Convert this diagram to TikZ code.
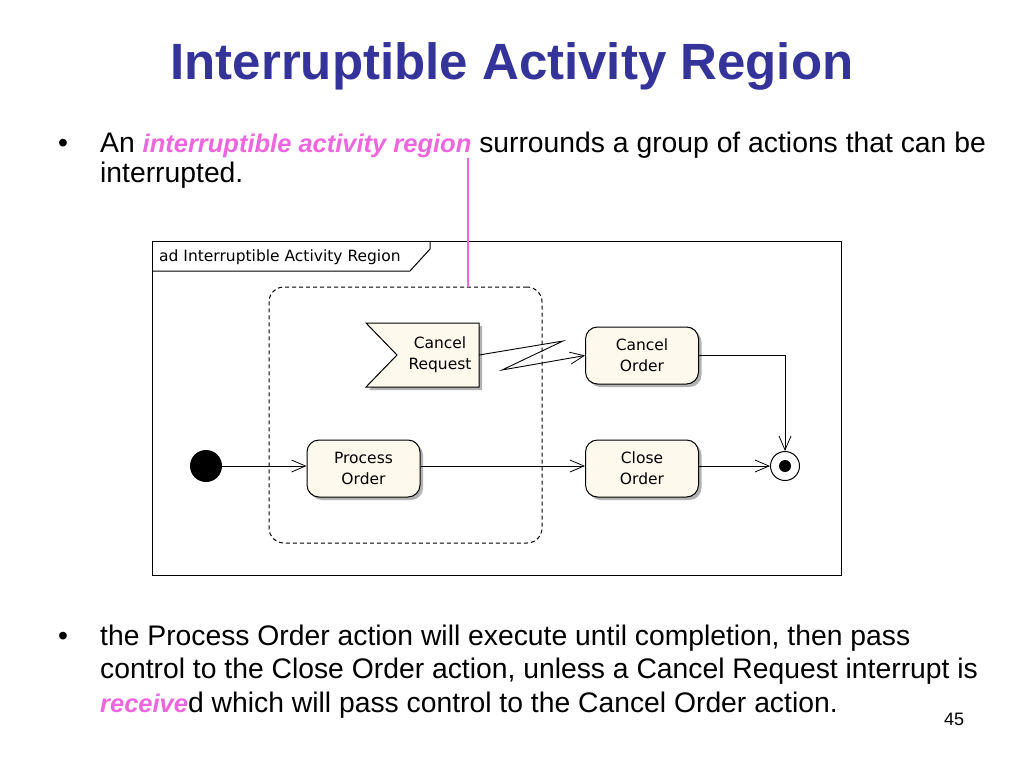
\documentclass[tikz,border=0pt]{standalone}
\usepackage{fontspec}
\setmainfont{Liberation Sans}
\newfontfamily\diagfont{DejaVu Sans}
\usetikzlibrary{arrows.meta,shadows,calc}
\definecolor{titleblue}{HTML}{333399}
\definecolor{pinkish}{HTML}{EE66DD}
\definecolor{cream}{HTML}{FDF9EC}
\begin{document}
\begin{tikzpicture}[x=1pt,y=-1pt,
  txt/.style={anchor=base west,inner sep=0pt,font=\fontsize{28.3}{32}\selectfont},
  dtxt/.style={font=\diagfont\fontsize{15.5}{21}\selectfont},
  act/.style={draw,line width=1pt,rounded corners=12pt,fill=cream,minimum width=113pt,minimum height=57pt,align=center,dtxt,inner sep=0pt,drop shadow={shadow xshift=3pt,shadow yshift=-3pt,fill=black!30,opacity=1}},
  flow/.style={line width=0.9pt,-{Straight Barb[length=14pt,width=12pt,line width=0.8pt]}}
]
\useasboundingbox (0,0) rectangle (1024,768);
% title
\node[font=\fontsize{51}{56}\selectfont\bfseries,text=titleblue,inner sep=0pt] (title) at (512,66) {Interruptible Activity Region};
% bullet 1
\node[txt] (b1) at (58,152) {\textbullet};
\node[txt] (l1) at (100,152) {An \textcolor{pinkish}{\fontsize{25.5}{30}\selectfont\bfseries\itshape interruptible activity region} surrounds a group of actions that can be};
\node[txt] (l2) at (100,182) {interrupted.};
% frame
\node[draw,line width=1pt,minimum width=689pt,minimum height=334pt,inner sep=0pt] (frame) at (496.5,408) {};
\coordinate (t1) at (152,271);
\coordinate (t2) at (410,271);
\coordinate (t3) at (430,249);
\coordinate (t4) at (430,241);
\draw[line width=1pt] (t1) -- (t2) -- (t3) -- (t4);
\node[anchor=west,inner sep=0pt,dtxt] (tab) at (159,257) {ad Interruptible Activity Region};
% interruptible region
\node[draw,line width=1pt,rounded corners=15pt,minimum width=273pt,minimum height=256pt,inner sep=0pt,dash pattern=on 4pt off 3pt] (region) at (405.5,415) {};
% pink callout
\coordinate (pk) at (468,158);
\draw[pinkish,line width=1.5pt] (pk) -- (pk |- region.north);
% accept event signal
\coordinate (a1) at (366,323);
\coordinate (a2) at (479,323);
\coordinate (a3) at (479,387);
\coordinate (a4) at (366,387);
\coordinate (a5) at (397,355);
\fill[black!30] ($(a1)+(3,3)$) -- ($(a2)+(3,3)$) -- ($(a3)+(3,3)$) -- ($(a4)+(3,3)$) -- ($(a5)+(3,3)$) -- cycle;
\filldraw[fill=cream,line width=1pt] (a1) -- (a2) -- (a3) -- (a4) -- (a5) -- cycle;
\node[align=center,dtxt,inner sep=0pt] (cr) at (440,355) {Cancel\\Request};
% actions
\node[act] (co) at (642,355.5) {Cancel\\Order};
\node[act] (clo) at (642,468.5) {Close\\Order};
\node[act] (po) at (363.5,468.5) {Process\\Order};
% initial and final
\node[circle,fill=black,minimum size=32pt,inner sep=0pt] (init) at (206,466) {};
\node[circle,draw,line width=1pt,fill=white,minimum size=29pt,inner sep=0pt] (fin) at (785,466) {};
\node[circle,fill=black,minimum size=12pt,inner sep=0pt] (finc) at (785,466) {};
% flows
\draw[flow] (init) -- (po.west |- init);
\draw[flow] (po.east |- init) -- (clo.west |- init);
\draw[flow] (clo.east |- init) -- (fin);
\coordinate (z1) at (563,341);
\coordinate (z2) at (502,370);
\draw[flow] (a3 |- a5) -- (z1) -- (z2) -- (co.west);
\draw[flow] (co.east) -| (fin);
% bullet 2
\node[txt] (b2) at (58,645) {\textbullet};
\node[txt] (m1) at (100,645) {the Process Order action will execute until completion, then pass};
\node[txt] (m2) at (100,678) {control to the Close Order action, unless a Cancel Request interrupt is};
\node[txt] (m3) at (100,712) {\textcolor{pinkish}{\fontsize{25.5}{30}\selectfont\bfseries\itshape receive}d which will pass control to the Cancel Order action.};
\node[anchor=base,inner sep=0pt,font=\fontsize{18}{21}\selectfont] (pg) at (954,725) {45};
\end{tikzpicture}
\end{document}
